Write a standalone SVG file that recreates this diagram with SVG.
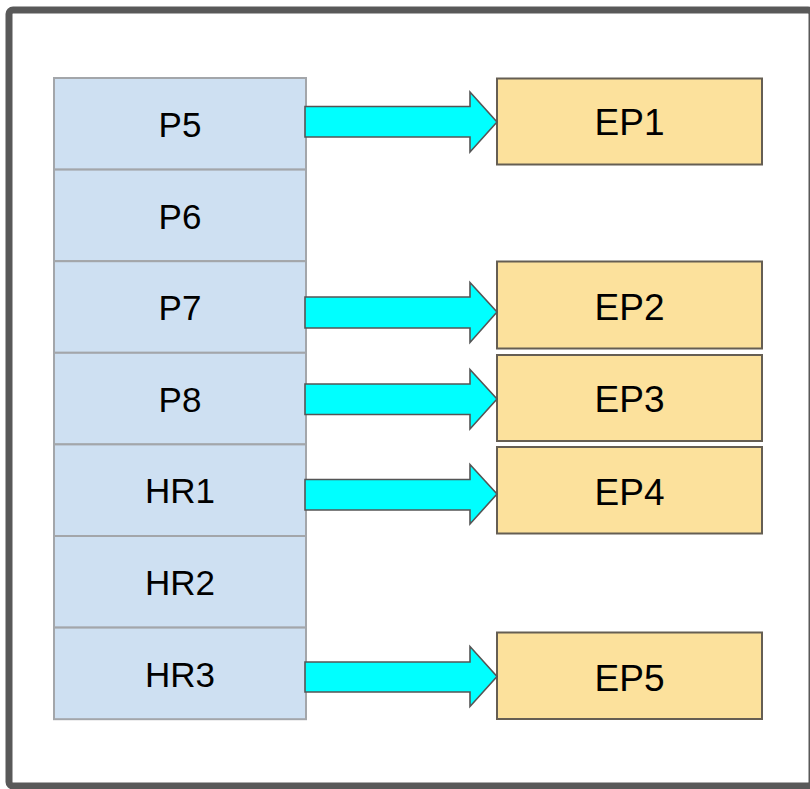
<svg xmlns="http://www.w3.org/2000/svg" width="810" height="789" viewBox="0 0 810 789">
  <style>
    .frame { fill: #ffffff; stroke: #595959; stroke-width: 7; }
    .reg rect { fill: #CEE0F2; stroke: #A3A6AA; stroke-width: 2; }
    .ep rect { fill: #FCE19C; stroke: #655E53; stroke-width: 2; }
    .lbl { font-family: "Liberation Sans", Arial, sans-serif; fill: #000000; text-anchor: middle; }
    .reg .lbl { font-size: 35px; }
    .ep .lbl { font-size: 37px; }
    .arrow { fill: #00FFFF; stroke: #555555; stroke-width: 1.6; stroke-linejoin: miter; }
  </style>

  <!-- outer frame -->
  <rect class="frame" x="9" y="10" width="803" height="776" rx="4"/>

  <!-- register stack, left column -->
  <g id="P5" class="reg">
    <rect x="54" y="78" width="252" height="91.6"/>
    <text class="lbl" x="180" y="137">P5</text>
  </g>
  <g id="P6" class="reg">
    <rect x="54" y="169.6" width="252" height="91.6"/>
    <text class="lbl" x="180" y="228.6">P6</text>
  </g>
  <g id="P7" class="reg">
    <rect x="54" y="261.2" width="252" height="91.6"/>
    <text class="lbl" x="180" y="320.2">P7</text>
  </g>
  <g id="P8" class="reg">
    <rect x="54" y="352.8" width="252" height="91.6"/>
    <text class="lbl" x="180" y="411.8">P8</text>
  </g>
  <g id="HR1" class="reg">
    <rect x="54" y="444.4" width="252" height="91.6"/>
    <text class="lbl" x="180" y="503.4">HR1</text>
  </g>
  <g id="HR2" class="reg">
    <rect x="54" y="536" width="252" height="91.6"/>
    <text class="lbl" x="180" y="595">HR2</text>
  </g>
  <g id="HR3" class="reg">
    <rect x="54" y="627.6" width="252" height="91.6"/>
    <text class="lbl" x="180" y="686.6">HR3</text>
  </g>

  <!-- endpoint boxes, right column -->
  <g id="EP1" class="ep">
    <rect x="497" y="78.5" width="265" height="86"/>
    <text class="lbl" x="629.5" y="135">EP1</text>
  </g>
  <g id="EP2" class="ep">
    <rect x="497" y="261.5" width="265" height="87"/>
    <text class="lbl" x="629.5" y="320">EP2</text>
  </g>
  <g id="EP3" class="ep">
    <rect x="497" y="355" width="265" height="86"/>
    <text class="lbl" x="629.5" y="412">EP3</text>
  </g>
  <g id="EP4" class="ep">
    <rect x="497" y="447" width="265" height="86.5"/>
    <text class="lbl" x="629.5" y="505">EP4</text>
  </g>
  <g id="EP5" class="ep">
    <rect x="497" y="632.5" width="265" height="86.5"/>
    <text class="lbl" x="629.5" y="691">EP5</text>
  </g>

  <!-- block arrows from registers to endpoints -->
  <g id="connectors">
    <path class="arrow" d="M305 106.5 H470 V92 L497 122 L470 152 V137 H305 Z"/>
    <path class="arrow" d="M305 297 H470 V282.5 L497 312 L470 342.5 V328 H305 Z"/>
    <path class="arrow" d="M305 384 H470 V369.5 L497 399 L470 429 V414.5 H305 Z"/>
    <path class="arrow" d="M305 479.5 H470 V464.5 L497 494 L470 524 V510 H305 Z"/>
    <path class="arrow" d="M305 662 H470 V646.5 L497 676.5 L470 706.5 V692 H305 Z"/>
  </g>
</svg>
